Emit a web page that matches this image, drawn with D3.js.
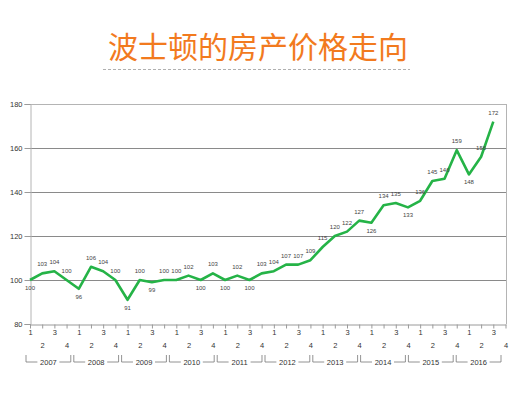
<!DOCTYPE html>
<html>
<head>
<meta charset="utf-8">
<script src="https://cdn.jsdelivr.net/npm/d3@7"></script>
<style>
  html, body { margin: 0; padding: 0; background: #fff; }
  svg { display: block; }
</style>
</head>
<body>
<div id="chart"></div>
<script>
// 数据：波士顿房价指数（季度）
const years = ['2007', '2008', '2009', '2010', '2011', '2012', '2013', '2014', '2015', '2016'];
const quarters = ['1', '2', '3', '4'];
const prices = [
  100, 103, 104, 100,
  96, 106, 104, 100,
  91, 100, 99, 100,
  100, 102, 100, 103,
  100, 102, 100, 103,
  104, 107, 107, 109,
  115, 120, 122, 127,
  126, 134, 135, 133,
  136, 145, 146, 159,
  148, 156, 172
];
const yTicks = [80, 100, 120, 140, 160, 180];

const width = 526, height = 394;
const plot = { left: 30, right: 506, top: 104, bottom: 324 };
const numFont = '"Liberation Sans", Arial, sans-serif';

const svg = d3.select('#chart')
  .append('svg')
  .attr('width', width)
  .attr('height', height);

// 标题
svg.append('text')
  .attr('x', 258)
  .attr('y', 58)
  .attr('text-anchor', 'middle')
  .style('font-family', '"Noto Sans CJK SC", sans-serif')
  .style('font-size', '30px')
  .style('fill', '#f27a1e')
  .text('波士顿的房产价格走向');

svg.append('line')
  .attr('x1', 103).attr('x2', 410)
  .attr('y1', 69.5).attr('y2', 69.5)
  .attr('stroke', '#b0b0b0')
  .attr('stroke-width', 1)
  .attr('stroke-dasharray', '3,2');

// 比例尺
const nQ = years.length * quarters.length;
const x = d3.scaleLinear().domain([0, nQ - 1]).range([plot.left, plot.right - 0.5]);
const y = d3.scaleLinear().domain([80, 180]).range([plot.bottom, plot.top]);
const yearBand = d3.scaleBand().domain(years).range([26, 501]).paddingInner(0.063);

// 网格线
svg.append('g')
  .selectAll('line')
  .data(yTicks.filter(d => d > 80))
  .join('line')
  .attr('x1', plot.left).attr('x2', plot.right)
  .attr('y1', d => Math.round(y(d)) + 0.5)
  .attr('y2', d => Math.round(y(d)) + 0.5)
  .attr('stroke', d => d === 180 ? '#b4b4b4' : '#8a8a8a')
  .attr('stroke-width', 1);

// 右边框
svg.append('line')
  .attr('x1', plot.right + 0.5).attr('x2', plot.right + 0.5)
  .attr('y1', plot.top).attr('y2', plot.bottom)
  .attr('stroke', '#b4b4b4');

// Y 轴
const yAxis = svg.append('g')
  .attr('transform', `translate(${plot.left + 0.5},0)`)
  .call(d3.axisLeft(y).tickValues(yTicks).tickSize(6).tickPadding(2));
yAxis.select('.domain').attr('stroke', '#b4b4b4');
yAxis.selectAll('.tick line').attr('stroke', '#9a9a9a');
yAxis.selectAll('text')
  .style('font-family', numFont)
  .style('font-size', '7.5px')
  .style('fill', '#333');

// X 轴（季度）
const xAxis = svg.append('g')
  .attr('transform', `translate(0,${plot.bottom + 0.5})`)
  .call(d3.axisBottom(x)
    .tickValues(d3.range(nQ))
    .tickSize(4)
    .tickFormat(i => quarters[i % 4]));
xAxis.select('.domain').attr('stroke', '#9a9a9a').attr('d', `M${plot.left},0.5H${plot.right + 0.5}`);
xAxis.selectAll('.tick line').attr('stroke', '#9a9a9a');
xAxis.selectAll('text')
  .style('font-family', numFont)
  .style('font-size', '7.5px')
  .style('fill', '#333')
  .attr('y', i => i % 2 === 0 ? 5 : 18);

// 年份括号
const yearG = svg.append('g')
  .selectAll('g')
  .data(years)
  .join('g');

yearG.append('path')
  .attr('fill', 'none')
  .attr('stroke', '#777')
  .attr('stroke-width', 0.8)
  .attr('d', d => {
    const l = yearBand(d), r = l + yearBand.bandwidth(), c = l + yearBand.bandwidth() / 2;
    return `M${l},355V362H${c - 11}M${c + 11},362H${r}V355`;
  });

yearG.append('text')
  .attr('x', d => yearBand(d) + yearBand.bandwidth() / 2)
  .attr('y', 364.5)
  .attr('text-anchor', 'middle')
  .style('font-family', numFont)
  .style('font-size', '7.5px')
  .style('fill', '#333')
  .text(d => d);

// 折线
const line = d3.line()
  .x((d, i) => x(i))
  .y(d => y(d));

svg.append('path')
  .datum(prices)
  .attr('fill', 'none')
  .attr('stroke', '#25b347')
  .attr('stroke-width', 2.6)
  .attr('stroke-linejoin', 'round')
  .attr('d', line);

// 数据标签：局部低点放在下方
const isLow = (d, i) => {
  if (i === 0) return true;
  const prev = prices[i - 1];
  const next = i < prices.length - 1 ? prices[i + 1] : Infinity;
  return d < prev && d <= next;
};

svg.append('g')
  .selectAll('text')
  .data(prices)
  .join('text')
  .attr('x', (d, i) => x(i))
  .attr('y', (d, i) => isLow(d, i) ? y(d) + 10 : y(d) - 7)
  .attr('text-anchor', 'middle')
  .style('font-family', numFont)
  .style('font-size', '6px')
  .style('fill', '#444')
  .text(d => d);
</script>
</body>
</html>
